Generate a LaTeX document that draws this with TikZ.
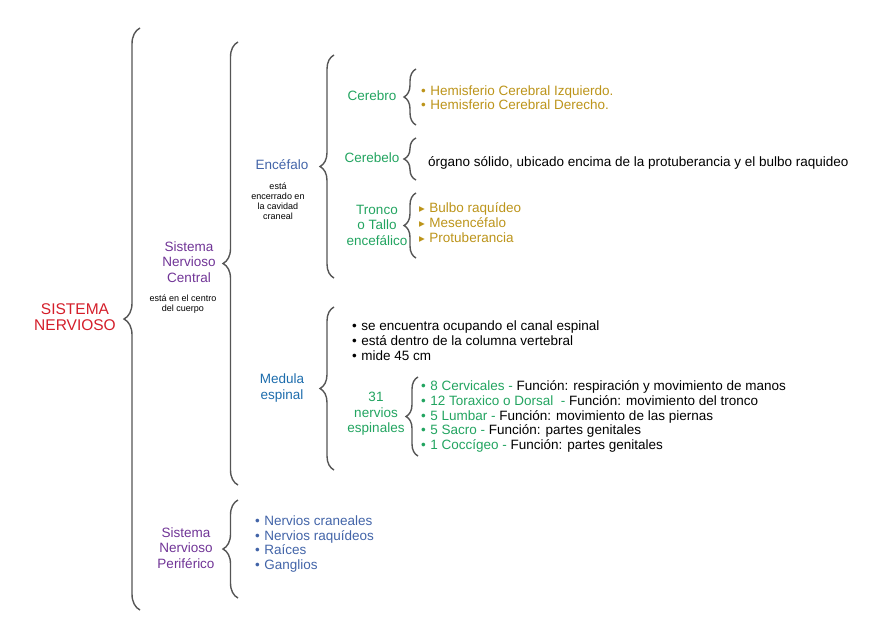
\documentclass[tikz,border=0pt]{standalone}
\usepackage{fontspec}
\setmainfont{Liberation Sans}
\newfontfamily\dejavu{DejaVu Sans}
\usetikzlibrary{decorations.pathreplacing}
\definecolor{cred}{RGB}{212,30,42}
\definecolor{cpurple}{RGB}{112,52,150}
\definecolor{cblue}{RGB}{66,100,168}
\definecolor{cmed}{RGB}{28,108,172}
\definecolor{cgreen}{RGB}{34,164,96}
\definecolor{cgold}{RGB}{188,148,26}
\definecolor{bracegray}{RGB}{85,85,85}
\newcommand{\tri}{{\dejavu\fontsize{11.5}{11.5}\selectfont ▸}}
\newcommand{\bul}{•\hspace{4.5pt}}
\begin{document}
\begin{tikzpicture}[x=1pt,y=-1pt,
  lbl/.style={align=center, inner sep=0pt},
  big/.style={lbl, font=\fontsize{15.5}{16.5}\selectfont},
  mid/.style={lbl, font=\fontsize{13.5}{15.5}\selectfont},
  note/.style={lbl, font=\fontsize{9}{10}\selectfont},
  item/.style={anchor=base west, inner sep=0pt, font=\fontsize{13.5}{15}\selectfont},
  brc/.style={draw=bracegray, line width=1.4pt, decorate, decoration={brace, amplitude=#1}}]
\useasboundingbox (0,0) rectangle (890,640);

% labels
\node[big, text=cred] (sn) at (75,317) {SISTEMA\\NERVIOSO};
\node[mid, text=cpurple] (snc) at (189,262) {Sistema\\Nervioso\\Central};
\node[note] (sncn) at (183,304) {está en el centro\\del cuerpo};
\node[mid, text=cpurple] (snp) at (186,548) {Sistema\\Nervioso\\Periférico};
\node[mid, text=cblue] (enc) at (282,165) {Encéfalo};
\node[note] (encn) at (278,201) {está\\encerrado en\\la cavidad\\craneal};
\node[mid, text=cmed] (med) at (282,388) {Medula\\espinal};
\node[mid, text=cgreen] (cer) at (372,96) {Cerebro};
\node[mid, text=cgreen] (cbl) at (372,158) {Cerebelo};
\node[mid, text=cgreen] (tro) at (377,225) {Tronco\\o Tallo\\encefálico};
\node[mid, text=cgreen] (n31) at (376,414) {31\\nervios\\espinales};

% braces
\coordinate (b1b) at (140,610); \coordinate (b1t) at (140,28);
\coordinate (b2b) at (238,485); \coordinate (b2t) at (238,42);
\coordinate (b3b) at (238,598); \coordinate (b3t) at (238,500);
\coordinate (b4b) at (334,278); \coordinate (b4t) at (334,55);
\coordinate (b5b) at (334,470); \coordinate (b5t) at (334,307);
\coordinate (b6b) at (416,125); \coordinate (b6t) at (416,69);
\coordinate (b7b) at (416,180); \coordinate (b7t) at (416,138);
\coordinate (b8b) at (416,258); \coordinate (b8t) at (416,193);
\coordinate (b9b) at (418,456); \coordinate (b9t) at (418,377);
\draw[brc=16] (b1b) -- (b1t);
\draw[brc=15] (b2b) -- (b2t);
\draw[brc=15] (b3b) -- (b3t);
\draw[brc=14] (b4b) -- (b4t);
\draw[brc=14] (b5b) -- (b5t);
\draw[brc=12] (b6b) -- (b6t);
\draw[brc=12] (b7b) -- (b7t);
\draw[brc=12] (b8b) -- (b8t);
\draw[brc=12] (b9b) -- (b9t);

% Cerebro items
\node[item, text=cgold] (h1) at (421,95.5) {\bul Hemisferio Cerebral Izquierdo.};
\node[item, text=cgold] (h2) at (421,109.5) {\bul Hemisferio Cerebral Derecho.};
% Cerebelo
\node[item] (org) at (428,166.5) {órgano sólido, ubicado encima de la protuberancia y el bulbo raquideo};
% Tronco items
\node[item, text=cgold] (t1) at (419,212.5) {\tri\hspace{4.5pt}Bulbo raquídeo};
\node[item, text=cgold] (t2) at (419,227.5) {\tri\hspace{4.5pt}Mesencéfalo};
\node[item, text=cgold] (t3) at (419,242) {\tri\hspace{4.5pt}Protuberancia};
% Medula items
\node[item] (m1) at (352,330.5) {\bul se encuentra ocupando el canal espinal};
\node[item] (m2) at (352,345.5) {\bul está dentro de la columna vertebral};
\node[item] (m3) at (352,360.5) {\bul mide 45 cm};
% nervios
\node[item] (c1) at (421,390.5) {\textcolor{cgreen}{\bul 8 Cervicales -} Función: respiración y movimiento de manos};
\node[item] (c2) at (421,405.5) {\textcolor{cgreen}{\bul 12 Toraxico o Dorsal\ \ -} Función: movimiento del tronco};
\node[item] (c3) at (421,420) {\textcolor{cgreen}{\bul 5 Lumbar -} Función: movimiento de las piernas};
\node[item] (c4) at (421,434.5) {\textcolor{cgreen}{\bul 5 Sacro -} Función: partes genitales};
\node[item] (c5) at (421,449.5) {\textcolor{cgreen}{\bul 1 Coccígeo -} Función: partes genitales};
% SNP items
\node[item, text=cblue] (p1) at (255,525.5) {\bul Nervios craneales};
\node[item, text=cblue] (p2) at (255,540) {\bul Nervios raquídeos};
\node[item, text=cblue] (p3) at (255,554.5) {\bul Raíces};
\node[item, text=cblue] (p4) at (255,569) {\bul Ganglios};
\end{tikzpicture}
\end{document}
